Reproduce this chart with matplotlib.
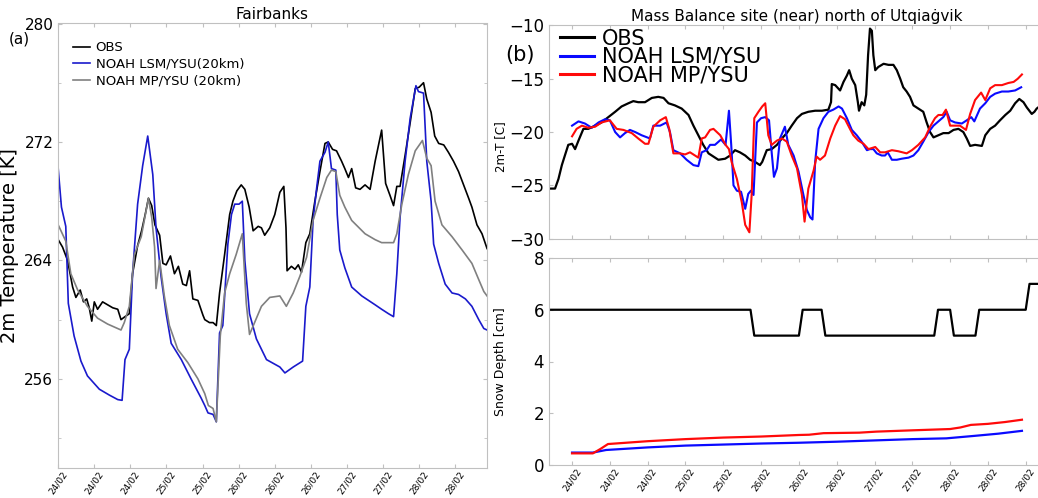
import numpy as np
import matplotlib
matplotlib.use("Agg")
import matplotlib.pyplot as plt
from matplotlib.ticker import MultipleLocator

# ---- Fairbanks (panel a), hours since 24/02 00UTC, 2m temperature [K]
fb_obs_t = [0, 1.2, 2.6, 4, 4.9, 6.1, 7, 7.9, 8.6, 9.3, 10, 10.9, 12.3, 13.7, 15.1, 16.5, 17.4,
            18.5, 19.7, 20.6, 22, 23.1, 24.1, 25, 25.9, 26.8, 28.1, 29, 29.9, 31.1, 32.2, 33.3,
            34.5, 35.5, 36.4, 37.3, 38.7, 40.1, 40.6, 41.9, 42.9, 43.8, 44.7, 46.1, 47.5, 48.4,
            49.5, 50.7, 51.7, 52.9, 54, 55.4, 56.3, 57.2, 58.6, 60, 61.4, 62.5, 63.1, 63.4, 64.6,
            65.6, 66.5, 67.4, 68.6, 69.7, 71.1, 72.5, 73.9, 74.8, 76, 77.1, 78.5, 79.4, 80.4,
            81.3, 82.4, 83.6, 85, 86.4, 87.8, 89.6, 90.7, 91.9, 92.9, 93.8, 94.7, 96.1, 97.5,
            98.9, 100, 101.2, 102.1, 103.3, 104.3, 105.4, 106.8, 108.1, 109.5, 110.9, 112.3,
            113.7, 114.6, 116, 117.4, 118.8]
fb_obs = [265.4, 264.9, 264.0, 262.2, 261.5, 262.0, 261.2, 261.4, 260.8, 259.9, 261.2, 260.7,
          261.2, 261.0, 260.8, 260.7, 260.0, 260.2, 260.4, 263.1, 265.0, 266.0, 267.1, 268.2,
          267.7, 266.4, 265.7, 263.8, 263.7, 264.3, 263.1, 263.6, 262.4, 262.3, 263.3, 261.4,
          261.3, 260.3, 260.0, 259.8, 259.8, 259.6, 261.8, 264.4, 267.1, 268.0, 268.7, 269.1,
          268.8, 267.6, 266.0, 266.3, 266.2, 265.7, 266.2, 267.1, 268.6, 269.0, 266.2, 263.3,
          263.6, 263.4, 263.7, 263.2, 265.2, 265.8, 268.0, 270.0, 271.9, 272.0, 271.5, 271.4,
          270.7, 270.2, 269.6, 270.2, 268.9, 268.8, 269.1, 268.8, 270.7, 272.8, 269.2, 268.4,
          267.7, 269.0, 269.0, 271.1, 273.3, 275.6, 275.7, 276.0, 274.9, 274.0, 272.4, 271.9,
          271.8, 271.3, 270.7, 270.0, 269.1, 268.2, 267.6, 266.4, 265.8, 264.8]

fb_lsm_t = [0, 0.9, 2.1, 2.8, 4.4, 6.3, 8.1, 11.4, 14.2, 16.5, 17.7, 18.5, 19.7, 20.6, 22, 23.4,
            24.8, 26.2, 27.1, 28.5, 29.9, 31.3, 34.1, 36.8, 39.6, 40.6, 41.5, 42.9, 43.8, 44.7,
            45.6, 47, 48, 48.9, 50.1, 51, 51.7, 53, 54.9, 57.7, 61.4, 62.8, 65.1, 67.7, 68.6,
            69.7, 70.6, 71.6, 72.5, 73.9, 74.8, 75.7, 76.9, 77.3, 78, 79.4, 81.3, 84.1, 87.8,
            89.6, 91.5, 92.9, 93.8, 94.7, 96.1, 97.5, 99.1, 99.8, 101.2, 102.1, 103.3, 104,
            105.4, 107.2, 109.1, 110.9, 112.8, 114.6, 116.5, 117.9, 118.8]
fb_lsm = [270.2, 267.6, 266.3, 261.1, 258.9, 257.2, 256.2, 255.3, 254.9, 254.6, 254.55, 257.3,
          258.0, 263.1, 267.8, 270.4, 272.4, 269.8, 266.2, 262.9, 260.4, 258.4, 257.3, 256.0,
          254.7, 254.2, 253.7, 253.6, 253.1, 259.1, 259.6, 265.1, 267.1, 267.8, 267.8, 268.0,
          264.0, 260.4, 258.7, 257.3, 256.8, 256.4, 256.8, 257.2, 260.9, 262.2, 266.7, 268.9,
          270.7, 271.3, 272.0, 270.2, 270.1, 267.1, 264.7, 263.5, 262.2, 261.6, 261.0, 260.7,
          260.4, 260.2, 263.1, 266.9, 270.7, 273.6, 275.8, 275.4, 275.3, 270.7, 268.0, 265.1,
          263.8, 262.4, 261.8, 261.7, 261.4, 260.9, 260.0, 259.4, 259.3]

fb_mp_t = [0, 2.1, 3.5, 5.4, 8.1, 10.9, 13.7, 17.4, 18.3, 19.7, 21.1, 23, 25, 25.9, 26.7, 27.1,
           28.1, 29.4, 30.8, 33.1, 35.9, 38.7, 40.6, 41.6, 42.9, 43.8, 44.9, 46.1, 47.5, 49.3,
           51, 52.1, 53, 54.4, 56.3, 58.6, 61.4, 63.2, 65.1, 66.9, 68.8, 70.6, 72.5, 74.4,
           75.7, 76.9, 78, 79.4, 81.3, 85, 87.8, 89.6, 92.9, 93.8, 95.2, 97, 98.9, 100.9,
           102.1, 103.3, 104.4, 106.3, 109.1, 111.9, 114.6, 116.5, 117.9, 118.8]
fb_mp = [266.4, 265.3, 263.1, 262.0, 260.9, 260.1, 259.7, 259.3, 259.8, 260.9, 264.4, 265.6,
         268.2, 266.9, 264.9, 262.1, 264.0, 261.6, 259.6, 258.0, 257.1, 256.0, 255.0, 254.2,
         254.0, 253.1, 258.9, 261.8, 263.1, 264.4, 265.8, 261.1, 259.0, 259.8, 260.9, 261.5,
         261.6, 260.9, 261.8, 262.9, 264.2, 266.7, 268.2, 269.6, 270.1, 270.0, 268.4, 267.6,
         266.7, 265.8, 265.4, 265.2, 265.2, 265.8, 267.8, 269.8, 271.4, 272.1, 270.9, 270.4,
         268.0, 266.4, 265.6, 264.7, 263.8, 262.7, 261.9, 261.6]

fb_ticklabels = ["24/02", "24/02", "24/02", "25/02", "25/02", "26/02",
                 "26/02", "26/02", "27/02", "27/02", "28/02", "28/02"]

# ---- Mass balance site north of Utqiagvik (panel b)
mb_obs_t = [-6.1, -4.5, -3.6, -2.7, -1.9, -1, 0, 0.8, 1.7, 3, 4.3, 6.1, 7.8, 9.6, 11.4, 13.1,
            14.9, 16.2, 17.5, 19.3, 21.1, 22.8, 24.2, 25.5, 27.2, 29, 30.8, 32.1, 33.4, 34.7,
            36.1, 38.7, 40.5, 41.8, 43.1, 44.4, 45.8, 47.1, 48.4, 49.7, 50.3, 51.5, 52.8, 54.2,
            55.5, 56.8, 58.1, 59.5, 60.8, 62.5, 64.3, 66.1, 67.8, 68.5, 68.7, 69.6, 70.9, 71.8,
            72.7, 73.3, 74, 74.9, 75.6, 75.9, 76.6, 77.3, 77.8, 78.3, 78.8, 79.3, 79.7, 80.2,
            81, 82.4, 83.7, 85, 85.9, 86.8, 87.6, 88.5, 89.4, 90.3, 91.6, 92.9, 93.8, 94.7,
            95.6, 96.9, 98.2, 99.6, 100.9, 102.2, 103.5, 104.4, 105.3, 106.6, 108.4, 109.3,
            110.6, 111.9, 113.2, 114.6, 115.9, 117.2, 118.3, 119.4, 120.3, 121.6, 122.3, 122.9,
            124]
mb_obs = [-25.3, -25.3, -24.4, -23.1, -22.2, -21.2, -21.1, -21.6, -20.8, -19.7, -19.7, -19.4,
          -19.1, -18.6, -18.1, -17.6, -17.3, -17.1, -17.2, -17.2, -16.8, -16.7, -16.8, -17.3,
          -17.5, -17.8, -18.4, -19.4, -20.3, -21.2, -22.0, -22.6, -22.5, -22.2, -21.7, -21.9,
          -22.2, -22.6, -22.8, -23.1, -22.8, -21.7, -21.6, -21.2, -20.6, -20.1, -19.4, -18.7,
          -18.3, -18.1, -18.0, -18.0, -17.9, -17.2, -15.5, -15.6, -16.1, -15.3, -14.7, -14.2,
          -15.0, -15.6, -17.2, -18.0, -17.2, -17.5, -16.5, -12.8, -10.3, -10.5, -12.8, -14.2,
          -13.9, -13.6, -13.7, -13.7, -14.2, -15.0, -15.8, -16.2, -16.7, -17.5, -17.8, -18.1,
          -19.1, -20.0, -20.5, -20.3, -20.1, -20.1, -19.8, -19.7, -20.0, -20.6, -21.3, -21.2,
          -21.3, -20.3, -19.7, -19.4, -18.9, -18.4, -18.0, -17.3, -16.9, -17.2, -17.7, -18.3,
          -18.1, -17.8, -17.5]

mb_lsm_t = [0, 1.7, 3.4, 5.2, 7, 8.7, 10, 11.4, 12.7, 14, 15.3, 16.7, 18.4, 20.6, 21.5, 23.3,
            25, 25.9, 26.8, 28.6, 30.3, 32.1, 33.4, 34.3, 35.6, 36.5, 37.8, 39.4, 40.6, 41.5,
            42.1, 42.7, 43.6, 44.7, 45.8, 46.6, 47.3, 48, 48.9, 50, 51.1, 52.1, 52.8, 53.4,
            54.2, 55, 56.3, 57.2, 58.6, 59.9, 61.2, 62.1, 63, 63.6, 64.3, 65.2, 66.5, 67.8,
            69.1, 70.5, 71.4, 72.7, 74, 75.3, 76.6, 78, 78.8, 79.7, 80.6, 81.9, 82.8, 83.5,
            84.6, 85.9, 87.2, 89, 90.3, 91.6, 92.9, 94.3, 95.6, 96.9, 98.2, 99.1, 100, 101.3,
            103.1, 104.4, 105.6, 106.4, 107.9, 109.3, 110.6, 111.9, 113.7, 115.4, 117.2, 118.8]
mb_lsm = [-19.4, -19.0, -19.2, -19.6, -19.1, -18.8, -18.9, -20.0, -20.5, -20.1, -19.8, -20.0,
          -20.3, -20.6, -19.4, -19.4, -19.1, -20.0, -21.7, -22.0, -22.6, -23.1, -23.2, -21.9,
          -21.7, -21.2, -21.2, -20.7, -21.2, -18.0, -21.2, -25.0, -25.5, -25.6, -27.2, -25.8,
          -25.5, -25.9, -19.1, -18.7, -18.6, -18.9, -21.9, -24.2, -23.4, -20.6, -19.5, -21.2,
          -22.2, -23.7, -25.9, -27.3, -28.0, -28.2, -22.8, -19.7, -18.7, -18.1, -17.9, -17.6,
          -17.8, -18.7, -19.8, -20.3, -20.9, -21.7, -21.6, -21.6, -22.0, -22.2, -22.2, -21.9,
          -22.6, -22.6, -22.5, -22.4, -22.2, -21.7, -20.9, -20.0, -19.4, -19.0, -18.6, -18.1,
          -18.9, -19.1, -19.2, -18.9, -18.6, -19.0, -17.8, -17.3, -16.7, -16.4, -16.2, -16.2,
          -16.1, -15.8]

mb_mp_t = [0, 1.2, 2.6, 4.3, 6.1, 7.8, 10, 11.8, 13.6, 15.8, 17.5, 19.3, 20.2, 21.5, 23.3, 24.8,
           25.7, 26.8, 28.6, 29.9, 31.2, 33.4, 34.3, 35.2, 36.5, 37.4, 39.2, 40.6, 41.5, 42.2,
           43.6, 44.9, 45.8, 46.9, 47.5, 48.2, 49.3, 50.3, 51.1, 51.9, 52.8, 54.2, 55.5, 56.8,
           58.1, 59.5, 60.8, 61.5, 62.5, 63.9, 64.7, 65.6, 66.9, 68.3, 69.6, 70.9, 72.2, 73.5,
           74.4, 75.7, 77.1, 78.4, 80.2, 81.5, 82.8, 84.6, 86.3, 88.5, 89.9, 91.6, 93.4, 94.7,
           96, 96.9, 98, 98.9, 100, 101.3, 102.6, 104.2, 105.3, 106.6, 108.2, 109.3, 110.6,
           111.9, 113.7, 115.4, 116.8, 117.9, 119]
mb_mp = [-20.4, -19.7, -19.4, -19.6, -19.5, -19.1, -18.9, -19.7, -19.8, -20.1, -20.6, -21.1,
         -21.1, -19.5, -18.9, -18.6, -19.7, -22.0, -22.0, -22.1, -21.9, -22.4, -20.6, -20.5,
         -19.8, -19.7, -20.3, -21.2, -21.6, -22.8, -24.4, -26.6, -28.7, -29.4, -25.9, -18.7,
         -18.1, -17.6, -17.3, -20.3, -21.2, -20.8, -20.6, -20.9, -22.2, -23.4, -25.9, -28.4,
         -25.3, -23.6, -22.3, -22.6, -22.2, -20.6, -19.4, -18.5, -18.8, -19.7, -20.3, -20.8,
         -21.1, -21.6, -21.4, -21.9, -21.9, -21.7, -21.8, -22.0, -21.7, -21.2, -20.5, -19.5,
         -18.7, -18.4, -18.4, -17.9, -19.4, -19.4, -19.4, -19.8, -18.3, -17.0, -16.3, -17.0,
         -15.9, -15.6, -15.6, -15.4, -15.3, -15.0, -14.6]

# snow depth [cm]
sd_obs_t = [-6.1, 47.2, 48.2, 60.0, 61.0, 66.0, 67.0, 95.8, 96.8, 100.0, 101.0, 106.7, 107.7,
            120.0, 121.0, 125]
sd_obs = [6, 6, 5, 5, 6, 6, 5, 5, 6, 6, 5, 5, 6, 6, 7, 7]
sd_lsm_t = [0, 5.5, 9, 20, 30, 40, 50, 60, 70, 80, 90, 99, 106, 112.7, 119]
sd_lsm = [0.48, 0.48, 0.58, 0.68, 0.75, 0.79, 0.83, 0.86, 0.90, 0.95, 1.00, 1.03, 1.12, 1.21, 1.32]
sd_mp_t = [0, 5.5, 7.5, 9.5, 20, 30, 40, 50, 60, 62.7, 66.5, 76, 80.5, 90, 100, 102.7, 105.5,
           110, 114.5, 119]
sd_mp = [0.45, 0.45, 0.62, 0.81, 0.92, 1.0, 1.06, 1.10, 1.16, 1.17, 1.23, 1.25, 1.29, 1.34,
         1.39, 1.45, 1.55, 1.59, 1.66, 1.75]

mb_ticklabels = ["24/02", "24/02", "24/02", "25/02", "25/02", "26/02", "26/02",
                 "26/02", "27/02", "27/02", "28/02", "28/02", "28/02"]

SPINE = "#c0c0c0"


def _style(ax):
    for s in ax.spines.values():
        s.set_color(SPINE)
    ax.tick_params(direction="in", top=True, right=True, color=SPINE, length=3)
    ax.tick_params(which="minor", direction="in", top=True, right=True, color=SPINE, length=2)
    ax.tick_params(axis="x", pad=1.5)


W, H = 1038, 498
fig = plt.figure(figsize=(W / 100, H / 100), dpi=100)


def px_axes(x0, x1, y0, y1):
    return fig.add_axes([x0 / W, 1 - y1 / H, (x1 - x0) / W, (y1 - y0) / H])


# ---- panel (a)
ax = px_axes(58.2, 486.7, 23.5, 467.7)
ax.plot(fb_obs_t, fb_obs, color="black", lw=1.2, label="OBS")
ax.plot(fb_lsm_t, fb_lsm, color="#1a1acc", lw=1.2, label="NOAH LSM/YSU(20km)")
ax.plot(fb_mp_t, fb_mp, color="#808080", lw=1.2, label="NOAH MP/YSU (20km)")
ax.set_xlim(0, 118.7)
ax.set_ylim(250, 280)
ax.set_yticks([256, 264, 272, 280])
ax.yaxis.set_minor_locator(MultipleLocator(4))
ax.set_xticks(np.arange(0, 120, 10))
ax.set_xticklabels(fb_ticklabels, rotation=55, ha="center", fontsize=6.5)
ax.tick_params(axis="y", labelsize=11)
ax.set_ylabel("2m Temperature [K]", fontsize=14, labelpad=4)
ax.set_title("Fairbanks", fontsize=11, pad=3)
ax.text(-0.115, 0.955, "(a)", transform=ax.transAxes, fontsize=11)
_style(ax)
ax.legend(loc="upper left", bbox_to_anchor=(0.035, 0.96), frameon=False, fontsize=9.5,
          handlelength=1.3, handletextpad=0.4, labelspacing=0.28, borderpad=0, borderaxespad=0)

# ---- panel (b) temperature
ax = px_axes(549, 1045, 25.4, 238.7)
ax.plot(mb_obs_t, mb_obs, color="black", lw=1.6, label="OBS")
ax.plot(mb_lsm_t, mb_lsm, color="#0a0aff", lw=1.5, label="NOAH LSM/YSU")
ax.plot(mb_mp_t, mb_mp, color="#ff0a0a", lw=1.5, label="NOAH MP/YSU")
ax.set_xlim(-6.1, 125.1)
ax.set_ylim(-30, -10)
ax.set_yticks([-30, -25, -20, -15, -10])
ax.set_xticks(np.arange(0, 130, 10))
ax.set_xticklabels([])
ax.tick_params(axis="y", labelsize=12)
ax.set_ylabel("2m-T [C]", fontsize=8.5)
ax.yaxis.set_label_coords(-0.085, 0.43)
ax.set_title("Mass Balance site (near) north of Utqiaġvik", fontsize=11, pad=3)
ax.text(-0.089, 0.833, "(b)", transform=ax.transAxes, fontsize=15)
_style(ax)
leg = ax.legend(loc="upper left", bbox_to_anchor=(0.022, 0.985), frameon=False, fontsize=15,
                handlelength=1.65, handletextpad=0.35, labelspacing=-0.08, borderpad=0,
                borderaxespad=0)
for h in leg.get_lines():
    h.set_linewidth(2.2)

# ---- panel (b) snow depth
ax = px_axes(549, 1045, 258, 465)
ax.plot(sd_obs_t, sd_obs, color="black", lw=1.6)
ax.plot(sd_lsm_t, sd_lsm, color="#0a0aff", lw=1.6)
ax.plot(sd_mp_t, sd_mp, color="#ff0a0a", lw=1.6)
ax.set_xlim(-6.1, 125.1)
ax.set_ylim(0, 8)
ax.set_yticks([0, 2, 4, 6, 8])
ax.set_xticks(np.arange(0, 130, 10))
ax.set_xticklabels(mb_ticklabels, rotation=55, ha="center", fontsize=6.5)
ax.tick_params(axis="y", labelsize=12)
ax.set_ylabel("Snow Depth [cm]", fontsize=9)
ax.yaxis.set_label_coords(-0.085, 0.5)
_style(ax)

fig.savefig("out.png", dpi=100)
plt.close(fig)
